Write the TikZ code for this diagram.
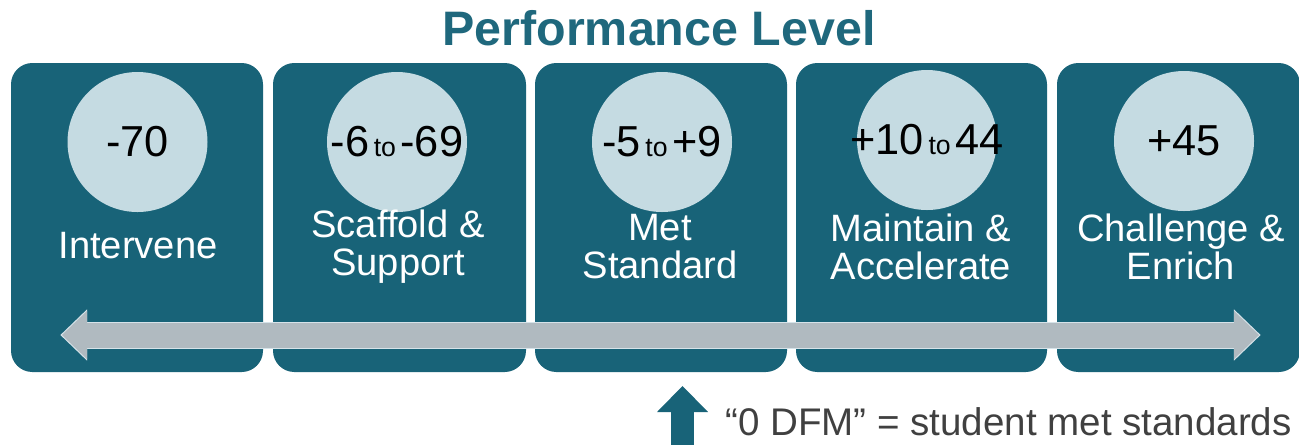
\documentclass[tikz,border=0pt]{standalone}
\usepackage{fontspec}
\setmainfont{Liberation Sans}
\usepackage{xcolor}
\usepackage{tikz}
\usetikzlibrary{arrows.meta, positioning}
\definecolor{boxteal}{RGB}{24,99,120}
\definecolor{titleteal}{RGB}{31,104,125}
\definecolor{scorefill}{RGB}{197,219,226}
\definecolor{bargray}{RGB}{176,186,192}
\definecolor{barrim}{RGB}{214,227,233}
\definecolor{notegray}{RGB}{64,64,64}
\newcommand{\rto}{{\fontsize{20}{21}\selectfont\,to\,}}

\begin{document}
\begin{tikzpicture}[x=0.75pt, y=-0.75pt,
  lvlbox/.style={rectangle, rounded corners=16pt, fill=boxteal, minimum height=231.75pt, inner sep=0pt},
  score/.style={circle, fill=scorefill, minimum size=105pt, inner sep=0pt},
  scoretxt/.style={font=\fontsize{32.5}{33}\selectfont, text=black, inner sep=0pt},
  lvltxt/.style={font=\fontsize{28.6}{28.5}\selectfont, text=white, align=center, inner sep=0pt}]
\useasboundingbox (0,0) rectangle (1299,444);
\node (title) [font=\fontsize{36.3}{36}\selectfont\bfseries, text=titleteal, inner sep=0pt] at (659,28.5) {Performance Level};
% the five levels
\node (box1) [lvlbox, minimum width=189pt] at (137,217.5) {};
\node (box2) [lvlbox, minimum width=189.75pt] at (399.5,217.5) {};
\node (box3) [lvlbox, minimum width=189pt] at (661,217.5) {};
\node (box4) [lvlbox, minimum width=188.25pt] at (921.5,217.5) {};
\node (box5) [lvlbox, minimum width=182.25pt] at (1178.5,217.5) {};
\node (c1) [score] at (137.5,142) {};
\node (c2) [score] at (397,142) {};
\node (c3) [score] at (662,142) {};
\node (c4) [score] at (927,140) {};
\node (c5) [score] at (1184,141) {};
\node (n1) [scoretxt] at (c1.center) {-70};
\node (n2) [scoretxt] at (c2.center) {-6\rto-69};
\node (n3) [scoretxt] at (c3.center) {-5\rto+9};
\node (n4) [scoretxt] at (c4.center) {+10\rto44};
\node (n5) [scoretxt] at (c5.center) {+45};
\node (l1) [lvltxt] at (138,246) {Intervene};
\node (l2) [lvltxt] at (398,247) {Scaffold \&\\Support};
\node (l3) [lvltxt] at (660,247) {Met\\Standard};
\node (l4) [lvltxt] at (921,247) {Maintain \&\\Accelerate};
\node (l5) [lvltxt] at (1181,247) {Challenge \&\\Enrich};
% scale bar
\coordinate (lend) at (62,335);
\coordinate (rend) at (1259,335);
\draw [barrim, line width=20.25pt, {Triangle[length=20pt, width=38.5pt, line width=0pt]}-{Triangle[length=20pt, width=38.5pt, line width=0pt]}] ([xshift=-1.2pt]lend) -- ([xshift=1.2pt]rend);
\draw [bargray, line width=18.75pt, {Triangle[length=18.75pt, width=36pt, line width=0pt]}-{Triangle[length=18.75pt, width=36pt, line width=0pt]}] (lend) -- (rend);
% zero mark
\coordinate (upbase) at (682.5,446);
\coordinate (uptip) at (682.5,386);
\draw [boxteal, line width=17.25pt, -{Triangle[length=19.5pt, width=38.25pt, line width=0pt]}] (upbase) -- (uptip);
\node (note) [anchor=base west, font=\fontsize{28.9}{29}\selectfont, text=notegray, inner sep=0pt] at (725,435) {“0 DFM” = student met standards};
\end{tikzpicture}
\end{document}
